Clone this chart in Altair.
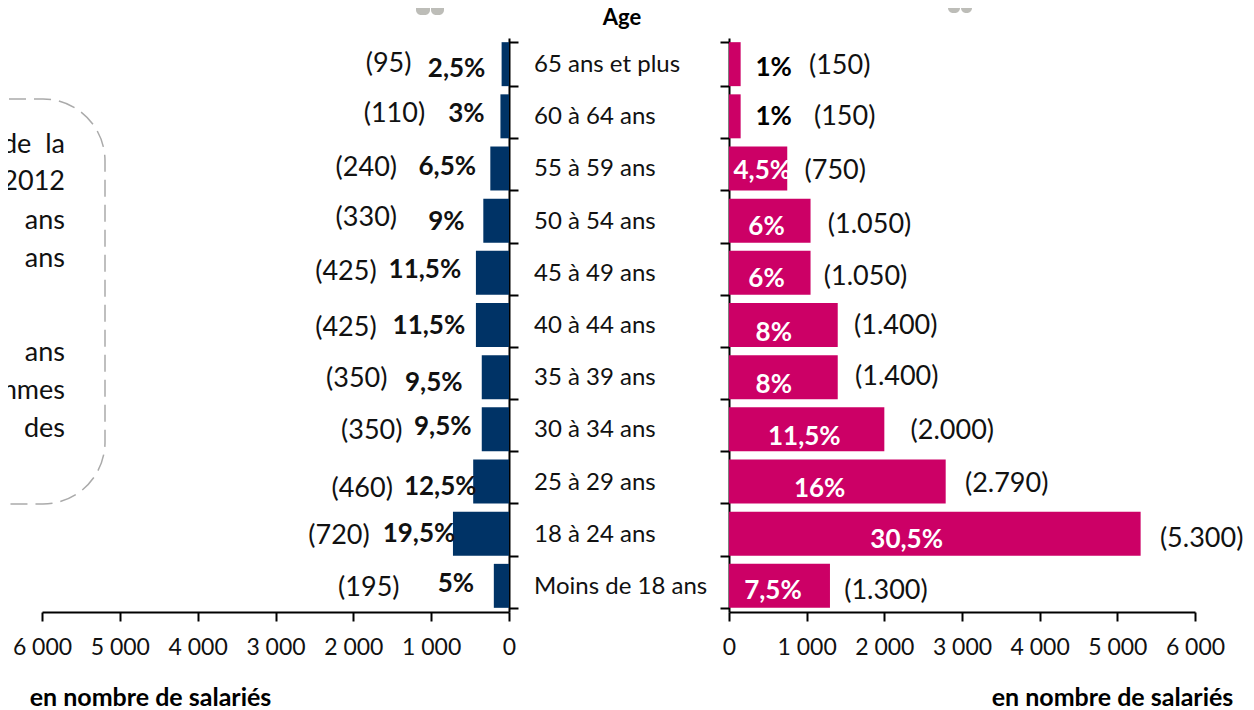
import altair as alt
import pandas as pd

ages = ["65 ans et plus", "60 à 64 ans", "55 à 59 ans", "50 à 54 ans", "45 à 49 ans", "40 à 44 ans",
        "35 à 39 ans", "30 à 34 ans", "25 à 29 ans", "18 à 24 ans", "Moins de 18 ans"]
men = [95, 110, 240, 330, 425, 425, 350, 350, 460, 720, 195]
women = [150, 150, 750, 1050, 1050, 1400, 1400, 2000, 2790, 5300, 1300]
men_pct = ["2,5%", "3%", "6,5%", "9%", "11,5%", "11,5%", "9,5%", "9,5%", "12,5%", "19,5%", "5%"]
women_pct = ["1%", "1%", "4,5%", "6%", "6%", "8%", "8%", "11,5%", "16%", "30,5%", "7,5%"]
men_count = ["(95)", "(110)", "(240)", "(330)", "(425)", "(425)", "(350)", "(350)", "(460)", "(720)", "(195)"]
women_count = ["(150)", "(150)", "(750)", "(1.050)", "(1.050)", "(1.400)", "(1.400)", "(2.000)", "(2.790)", "(5.300)", "(1.300)"]
# label nudges as hand-placed in the source figure
men_pct_dx = [-45, -34, -43, -37, -51, -47, -48, -39, -33, -34, -38]
men_pct_dy = [5, -2, -1, 1, -3, 1, 6, -2, 5, 0, -2]
men_count_dx = [-113, -106, -124, -117, -130, -130, -125, -110, -111, -114, -125]
men_count_dy = [0, -2, 0, -3, -1, 3, 2, 2, 7, 2, 2]
women_pct_dx = [33, 33, -25, -44, -44, -64, -64, -80, -126, -234, -57]
women_pct_dy = [4, 1, 3, 6, 6, 8, 8, 8, 7, 6, 5]
women_count_dx = [99, 104, 48, 59, 55, 58, 59, 68, 61, 61, 56]
women_count_dy = [2, 1, 3, 4, 4, 1, 0, 2, 2, 5, 5]
women_pct_col = ["black", "black"] + ["white"] * 9
box_lines = ["de\u00a0\u00a0la", "2012", "ans", "ans", "ans", "mmes", "des"]
box_line_y = [107, 144, 183, 221, 315, 353, 391]
x_ticks = [0, 1000, 2000, 3000, 4000, 5000, 6000]

FONT = "Lato"
NAVY = "#003366"
PINK = "#CC0066"
W, H = 1153, 574
STEP = H / 11
UNIT_L = 6000 / 467
UNIT_R = 6000 / 466

rows = list(range(len(ages)))
df = pd.DataFrame(dict(age=ages, men=men, women=women, men_pct=men_pct, women_pct=women_pct,
                       men_count=men_count, women_count=women_count, wcol=women_pct_col))
df["mpx"] = [v - d * UNIT_L for v, d in zip(men, men_pct_dx)]
df["mcx"] = [v - d * UNIT_L for v, d in zip(men, men_count_dx)]
df["wpx"] = [v + d * UNIT_R for v, d in zip(women, women_pct_dx)]
df["wcx"] = [v + d * UNIT_R for v, d in zip(women, women_count_dx)]
df["mpy"] = [r + .5 + d / STEP for r, d in zip(rows, men_pct_dy)]
df["mcy"] = [r + .5 + d / STEP for r, d in zip(rows, men_count_dy)]
df["wpy"] = [r + .5 + d / STEP for r, d in zip(rows, women_pct_dy)]
df["wcy"] = [r + .5 + d / STEP for r, d in zip(rows, women_count_dy)]
box_df = pd.DataFrame(dict(t=box_lines, py=box_line_y))

yscale = alt.Scale(domain=ages, paddingInner=0.157, paddingOuter=0.08)
rowscale = alt.Scale(domain=[0, 11], range=[0, H])
xl = alt.Scale(domain=[6000, 0], range=[0, 467])
xr = alt.Scale(domain=[0, 6000], range=[687, 1153])
Y0 = alt.Y("age:N", scale=yscale, axis=None)

lab = 'replace(format(datum.value, ","), ",", " ")'
def xaxis(tx):
    return alt.Axis(values=x_ticks, orient="bottom", grid=False, labelExpr=lab, labelFont=FONT, labelFontSize=23,
                    labelColor="#111", labelPadding=15, labelOverlap=False, labelFlush=False, labelBound=False,
                    tickSize=9, tickWidth=2, tickColor="black",
                    domainColor="black", domainWidth=2, title="en nombre de salariés", titleFont=FONT,
                    titleFontSize=25, titleFontWeight="bold", titleColor="black", titleX=tx, titleY=93,
                    titleBaseline="alphabetic", titleAnchor="middle", titleAlign="center")
def yaxis(orient, offset):
    return alt.Axis(orient=orient, offset=offset, labels=False, title=None, grid=False, tickBand="extent", tickSize=9,
                    tickWidth=2, tickColor="black", domainColor="black", domainWidth=2)

base = alt.Chart(df)
left_bars = base.mark_bar(color=NAVY).encode(
    x=alt.X("men:Q", scale=xl, axis=xaxis(108)),
    y=alt.Y("age:N", scale=yscale, axis=yaxis("right", -(W - 467))),
)
right_bars = base.mark_bar(color=PINK).encode(
    x=alt.X("women:Q", scale=xr, axis=xaxis(1070)),
    y=alt.Y("age:N", scale=yscale, axis=yaxis("left", -687)),
)

def labels(xf, scale, yf, tf, bold, color=None):
    mk = dict(font=FONT, fontSize=26 if bold else 27, fontWeight="bold" if bold else "normal",
              align="center", baseline="middle")
    enc = dict(x=alt.X(xf, scale=scale, axis=None), y=alt.Y(yf, scale=rowscale, axis=None), text=alt.Text(tf))
    if color:
        enc["color"] = alt.Color(color, scale=None, legend=None)
    else:
        mk["color"] = "#111"
    return base.mark_text(**mk).encode(**enc)

ml1 = labels("mpx:Q", xl, "mpy:Q", "men_pct:N", True)
ml2 = labels("mcx:Q", xl, "mcy:Q", "men_count:N", False)
wl1 = labels("wpx:Q", xr, "wpy:Q", "women_pct:N", True, "wcol:N")
wl2 = labels("wcx:Q", xr, "wcy:Q", "women_count:N", False)

mid = base.mark_text(font=FONT, fontSize=24, align="left", baseline="middle", color="#111", dy=1).encode(
    x=alt.value(492), y=Y0, text="age:N")

one = alt.Data(values=[{"a": 1}])
age_title = alt.Chart(one).mark_text(text="Age", font=FONT, fontSize=22, fontWeight="bold", align="center",
                                     baseline="middle", color="black").encode(x=alt.value(580), y=alt.value(-20))

box = alt.Chart(one).mark_rect(fill="white", fillOpacity=0, stroke="#aaaaaa", strokeWidth=1.5, strokeDash=[17, 8],
                               cornerRadius=62).encode(
    x=alt.value(-120), x2=alt.value(63), y=alt.value(61), y2=alt.value(466))
box_txt = alt.Chart(box_df).mark_text(font=FONT, fontSize=27, align="right", baseline="middle", color="#111").encode(
    x=alt.value(23), y=alt.Y("py:Q", scale=None, axis=None), text="t:N")

def leg(x1, x2, y2):
    return alt.Chart(one).mark_rect(fill="#bdbdb8", cornerRadius=5).encode(
        x=alt.value(x1), x2=alt.value(x2), y=alt.value(-60), y2=alt.value(y2))
legs = [leg(374, 388, -23), leg(389, 402, -23), leg(906, 918, -25), leg(919, 930, -25)]

chart = alt.layer(
    box, box_txt, *legs, left_bars, right_bars, ml1, ml2, wl1, wl2, mid, age_title
).resolve_scale(x="independent", y="independent").resolve_axis(x="independent", y="independent").properties(
    width=W, height=H,
    autosize=alt.AutoSizeParams(type="none"),
    padding={"left": 34, "top": 30, "right": 51, "bottom": 98},
).configure_view(stroke=None)

chart.save("out.html", embed_options={"renderer": "svg", "actions": False})
